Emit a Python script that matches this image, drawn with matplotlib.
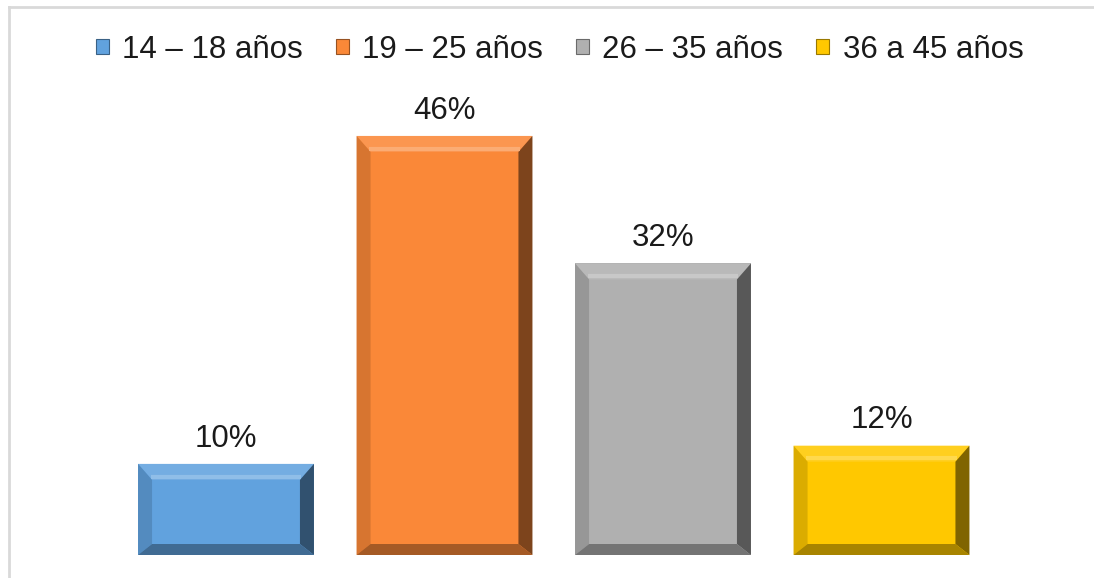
import matplotlib
matplotlib.use("Agg")
import matplotlib.pyplot as plt
from matplotlib.patches import Polygon, Patch
from matplotlib.lines import Line2D
from matplotlib.colors import to_rgb
import numpy as np

plt.rcParams['font.family'] = ['Liberation Sans', 'DejaVu Sans']

categories = ['14 – 18 años', '19 – 25 años', '26 – 35 años', '36 a 45 años']
values = [10, 46, 32, 12]
labels = ['10%', '46%', '32%', '12%']
colors = ['#61A2DE', '#FA8838', '#B0B0B0', '#FFC800']


def shade(c, f):
    # f < 1 darkens, f > 1 lightens towards white
    r = np.array(to_rgb(c))
    if f <= 1:
        return tuple(r * f)
    return tuple(r + (1 - r) * (f - 1))


fig = plt.figure(figsize=(10.94, 5.78), dpi=100)
W, H = 1094, 578
ax = fig.add_axes([116.75 / W, 23 / H, 874 / W, 455.5 / H])
ax.set_xlim(-0.5, 3.5)
ax.set_ylim(0, 50)
ax.axis('off')

x = np.arange(len(values))
width = 0.805
bars = ax.bar(x, values, width=width, color=colors, zorder=2)

# bevel size in data units (about 14 px across, 15 px down)
bx = 14 / 218.5
by_top = 16 / 9.11
by_bot = 11 / 9.11

for b, c in zip(bars, colors):
    x0, x1 = b.get_x(), b.get_x() + b.get_width()
    y0, y1 = 0, b.get_height()
    top = [(x0, y1), (x1, y1), (x1 - bx, y1 - by_top), (x0 + bx, y1 - by_top)]
    bot = [(x0, y0), (x1, y0), (x1 - bx, y0 + by_bot), (x0 + bx, y0 + by_bot)]
    left = [(x0, y0), (x0 + bx, y0 + by_bot), (x0 + bx, y1 - by_top), (x0, y1)]
    right = [(x1, y0), (x1, y1), (x1 - bx, y1 - by_top), (x1 - bx, y0 + by_bot)]
    ax.add_patch(Polygon(top, closed=True, color=shade(c, 1.12), lw=0, zorder=3))
    ax.add_patch(Polygon(left, closed=True, color=shade(c, 0.86), lw=0, zorder=3))
    ax.add_patch(Polygon(right, closed=True, color=shade(c, 0.5), lw=0, zorder=3))
    ax.add_patch(Polygon(bot, closed=True, color=shade(c, 0.66), lw=0, zorder=3))
    # highlight band along inner top edge
    ax.plot([x0 + bx * 0.9, x1 - bx * 0.9], [y1 - by_top * 0.8, y1 - by_top * 0.8],
            color=shade(c, 1.3), lw=3, solid_capstyle='butt', zorder=4)

for xi, v, lab in zip(x, values, labels):
    ax.annotate(lab, (xi, v), xytext=(0, 12.5), textcoords='offset points',
                ha='center', va='baseline', fontsize=22.5, color='#1a1a1a')

handles = [Patch(facecolor=c, edgecolor=shade(c, 0.6), lw=0.8) for c in colors]
fig.legend(handles, categories, loc='center', bbox_to_anchor=(559.5 / W, 1 - 50 / H),
           ncol=4, frameon=False, fontsize=22.5, handlelength=0.42, handleheight=0.36,
           handletextpad=0.42, columnspacing=1.06, labelcolor='#1a1a1a',
           borderpad=0, borderaxespad=0)

# chart border (only left and top edges are visible in the crop)
fig.add_artist(Line2D([9 / W, 9 / W], [0, 1 - 7 / H], transform=fig.transFigure,
                      color='#D9D9D9', lw=2))
fig.add_artist(Line2D([9 / W, 1], [1 - 7 / H, 1 - 7 / H], transform=fig.transFigure,
                      color='#D9D9D9', lw=2))

fig.savefig('out.png', dpi=100, facecolor='white')
